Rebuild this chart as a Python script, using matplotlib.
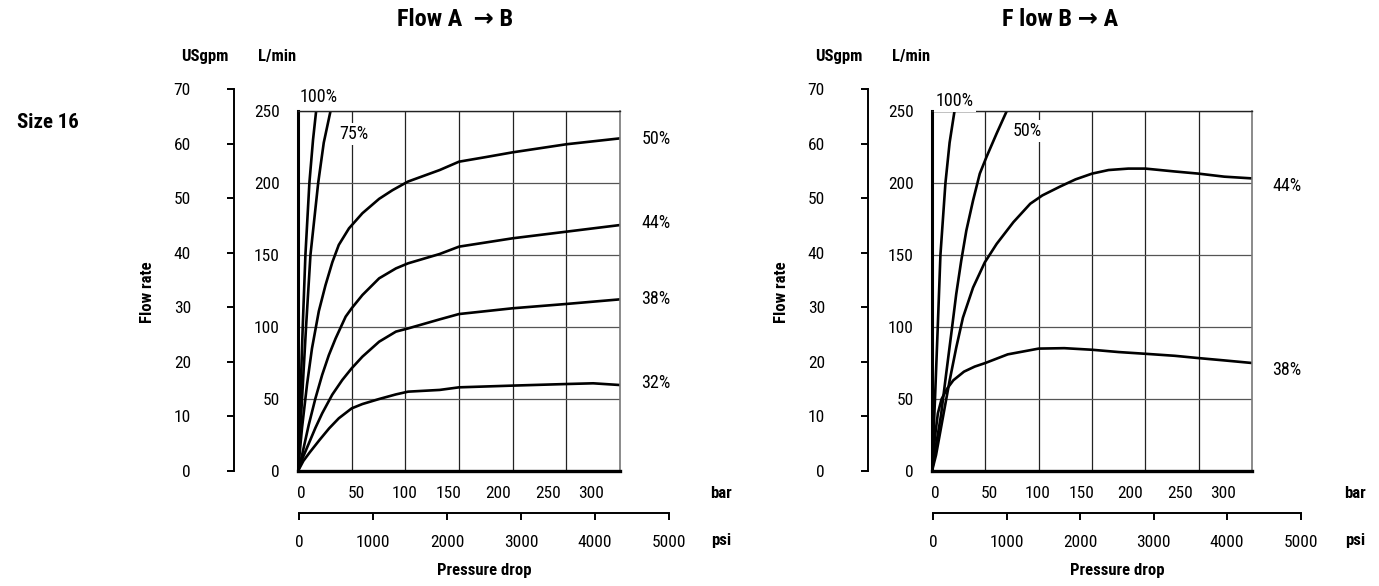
import matplotlib
matplotlib.use("Agg")
import matplotlib.pyplot as plt
from matplotlib import font_manager

W, H = 1379, 586
LPM_PER_GPM = 3.78541
PSI_PER_BAR = 14.5038

# values: pressure drop (bar) vs flow (L/min)
# Flow A -> B
ab_100_bar = [0, 2.2, 4.4, 6.9, 10.6, 14, 16.9]
ab_100_lpm = [0, 50, 100, 150, 200, 230, 250]
ab_75_bar = [0, 3.75, 7.5, 11.6, 18.8, 24, 30.3]
ab_75_lpm = [0, 50, 100, 150, 200, 228, 250]
ab_50_bar = [0, 3.75, 8.4, 13, 19.4, 25.6, 32, 38, 47.5, 60, 75.6, 88, 102.5,
             132, 150, 175, 200, 250, 300]
ab_50_lpm = [0, 30, 60, 85, 111, 129, 145, 157, 168.5, 179, 189, 195, 201,
             209, 214.8, 218, 221.3, 226.9, 231]
ab_44_bar = [0, 3.75, 10, 16.25, 22.5, 28.75, 35, 44.4, 50, 60, 75.6, 91.25, 102.5,
             132, 150, 200, 250, 300]
ab_44_lpm = [0, 11, 32, 50.5, 66.7, 80.5, 92, 107.2, 113, 122.2, 133.8, 140.7, 144.2,
             150.7, 155.8, 161.6, 166.2, 170.8]
ab_38_bar = [0, 3.75, 10, 16.25, 22.5, 31.9, 41.25, 50, 60, 75.6, 91.25, 102.5,
             132, 150, 200, 250, 300]
ab_38_lpm = [0, 8, 19, 30, 40, 53, 63.2, 71.3, 79.4, 89.8, 96.8, 99,
             105.3, 109, 113, 116, 119.2]
ab_32_bar = [0, 5, 11, 20, 29, 38, 50, 60, 75.6, 91.25, 102.5, 132, 150, 200, 250, 275, 300]
ab_32_lpm = [0, 7, 13, 21.5, 29.6, 36.6, 43.5, 46.5, 50, 53.2, 55.1, 56.3, 58.1, 59.3, 60.4, 60.9, 59.7]

# Flow B -> A
ba_100_bar = [0, 2.8, 5.4, 7.9, 12.6, 16.5, 21.1]
ba_100_lpm = [0, 50, 100, 150, 200, 228, 250]
ba_50_bar = [0, 3.8, 8.5, 13.2, 18, 22.7, 27.4, 32.2, 38.5, 44.8, 51.1, 60.6, 70.7]
ba_50_lpm = [0, 18, 39, 67, 94.9, 122.8, 146, 167, 187.9, 206.5, 218.1, 234.4, 251]
ba_44_bar = [0, 3.8, 10.1, 16.4, 22.7, 29, 38.5, 49.5, 60.6, 76.3, 92.1, 103.5, 120,
             134.5, 150, 165.5, 184, 200, 227.6, 250, 274, 300]
ba_44_lpm = [0, 11.2, 36.7, 62.3, 85.6, 106.5, 127.4, 144.9, 157.7, 172.8, 185.6, 191.4, 197.5,
             202.5, 206.5, 209, 210, 210, 208, 206.5, 204.4, 203.2]
ba_38_bar = [0, 1.3, 3, 5.5, 9, 14, 20, 30, 40, 50, 71, 100, 124, 150, 175, 200,
             227.6, 250, 274, 300]
ba_38_lpm = [0, 12, 25, 40, 50, 57, 63, 69, 72.5, 75, 81, 85, 85.3, 84.2, 82.6, 81.4,
             80, 78.4, 76.8, 75]

bar_labels = ["0", "50", "100", "150", "200", "250", "300"]
bar_label_pos = [3, 54, 99, 140, 186, 233, 273]   # labels sit off the grid in the original
psi_ticks = [0, 1000, 2000, 3000, 4000, 5000]
lpm_ticks = [0, 50, 100, 150, 200, 250]
gpm_ticks = [0, 10, 20, 30, 40, 50, 60, 70]

names = {f.name for f in font_manager.fontManager.ttflist}
FONT = "DejaVu Sans"
for cand in ("Liberation Sans Narrow", "DejaVu Sans Condensed", "Roboto Condensed", "Liberation Sans"):
    if cand in names:
        FONT = cand
        break
plt.rcParams["font.family"] = [FONT, "DejaVu Sans"]

BOX_TOP, BOX_BOT = 111, 471
TICK_FS = 12.5

fig = plt.figure(figsize=(W / 100, H / 100), dpi=100)


def ftext(px, py, s, **kw):
    kw.setdefault("ha", "center")
    kw.setdefault("va", "center")
    kw.setdefault("fontsize", 12)
    fig.text(px / W, 1 - py / H, s, **kw)


def panel(x0, x1, curves, pct_labels):
    bw = x1 - x0
    bh = BOX_BOT - BOX_TOP
    ax = fig.add_axes([x0 / W, 1 - BOX_BOT / H, bw / W, bh / H])
    ax.set_xlim(0, 300)
    ax.set_ylim(0, 250)
    ax.set_xticks(range(50, 300, 50))
    ax.set_xticklabels([])
    ax.set_xticks(bar_label_pos, minor=True)
    ax.set_xticklabels(bar_labels, minor=True)
    ax.set_yticks(lpm_ticks)
    ax.tick_params(axis="x", which="both", length=0)
    ax.tick_params(axis="x", which="minor", pad=11, labelsize=TICK_FS)
    ax.tick_params(axis="y", length=0, pad=13, labelsize=TICK_FS)
    ax.set_axisbelow(True)
    ax.grid(axis="x", which="major", color="#222222", lw=0.9)
    ax.grid(axis="y", which="major", color="#555555", lw=0.9)
    ax.spines["left"].set_linewidth(2.2)
    ax.spines["bottom"].set_linewidth(2.4)
    ax.spines["top"].set_linewidth(1.0)
    ax.spines["top"].set_color("#222222")
    ax.spines["right"].set_linewidth(1.2)
    ax.spines["right"].set_color("#777777")
    for xs, ys in curves:
        ax.plot(xs, ys, color="black", lw=1.9, solid_capstyle="round", solid_joinstyle="round")

    # USgpm scale: own spine, 0 aligned with 0 L/min
    gh = 70 * LPM_PER_GPM / 250 * bh
    ag = fig.add_axes([(x0 - 64) / W, 1 - BOX_BOT / H, 0.5 / W, gh / H])
    ag.patch.set_visible(False)
    ag.set_ylim(0, 70)
    ag.set_yticks(gpm_ticks)
    ag.set_xticks([])
    for s in ("top", "right", "bottom"):
        ag.spines[s].set_visible(False)
    ag.spines["left"].set_linewidth(1.4)
    ag.tick_params(axis="y", direction="out", length=5, width=1.4, pad=26, labelsize=TICK_FS)

    # psi scale under the bar axis
    pw = bw * (5000 / PSI_PER_BAR) / 300
    ap = fig.add_axes([(x0 + 1) / W, 1 - 513 / H, pw / W, 0.5 / H])
    ap.patch.set_visible(False)
    ap.set_xlim(0, 5000)
    ap.set_xticks(psi_ticks)
    ap.set_yticks([])
    for s in ("top", "right", "left"):
        ap.spines[s].set_visible(False)
    ap.spines["bottom"].set_linewidth(1.4)
    ap.tick_params(axis="x", direction="out", length=5, width=1.4, pad=11, labelsize=TICK_FS)

    for s, px, py in pct_labels:
        ftext(px, py, s, fontsize=13,
              bbox=dict(fc="white", ec="none", pad=1.5))

    ftext(x0 - 93, 57, "USgpm", fontweight="bold")
    ftext(x0 - 21, 57, "L/min", fontweight="bold")
    ftext(x0 - 150, 292, "Flow rate", fontweight="bold", rotation=90)
    ftext(x0 + 423, 493, "bar", fontweight="bold")
    ftext(x0 + 423, 540, "psi", fontweight="bold")
    ftext(x0 + 1 + pw / 2, 570, "Pressure drop", fontweight="bold")


panel(298, 620,
      [(ab_100_bar, ab_100_lpm), (ab_75_bar, ab_75_lpm), (ab_50_bar, ab_50_lpm),
       (ab_44_bar, ab_44_lpm), (ab_38_bar, ab_38_lpm), (ab_32_bar, ab_32_lpm)],
      [("100%", 319, 97), ("75%", 354, 134), ("50%", 656, 139),
       ("44%", 656, 223), ("38%", 656, 299), ("32%", 656, 383)])

panel(932, 1252,
      [(ba_100_bar, ba_100_lpm), (ba_50_bar, ba_50_lpm),
       (ba_44_bar, ba_44_lpm), (ba_38_bar, ba_38_lpm)],
      [("100%", 955, 101), ("50%", 1027, 131),
       ("44%", 1287, 186), ("38%", 1287, 370)])

ftext(455, 20, "Flow A  \u2192 B", fontsize=17.5, fontweight="bold")
ftext(1060, 20, "F low B \u2192 A", fontsize=17.5, fontweight="bold")
ftext(48, 122, "Size 16", fontsize=15, fontweight="bold")

fig.savefig("out.png", dpi=100)
